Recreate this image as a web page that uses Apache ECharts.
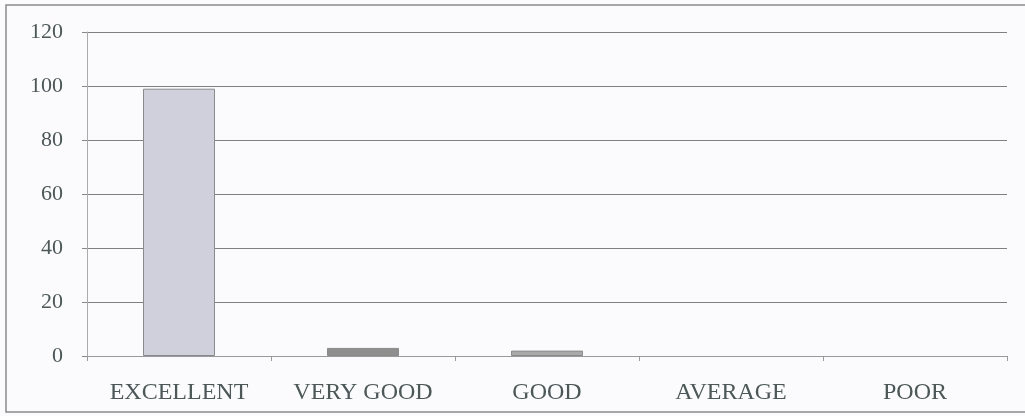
<!DOCTYPE html>
<html>
<head>
<meta charset="utf-8">
<script src="https://cdn.jsdelivr.net/npm/echarts@6/dist/echarts.min.js"></script>
<style>
html,body{margin:0;padding:0;background:#fbfbfd;}
#chart{width:1025px;height:416px;}
</style>
</head>
<body>
<div id="chart"></div>
<script>
var categories = ['EXCELLENT', 'VERY GOOD', 'GOOD', 'AVERAGE', 'POOR'];
var values = [99, 3, 2, 0, 0];
var barColors = ['#d0d0dc', '#8e8e8e', '#a9a9a9', '#a9a9a9', '#a9a9a9'];
var yTicks = { min: 0, max: 120, interval: 20 };

var chart = echarts.init(document.getElementById('chart'));
var textColor = '#4b5858';
chart.setOption({
  backgroundColor: '#fbfbfd',
  animation: false,
  graphic: [{
    type: 'rect',
    shape: { x: 6, y: 5, width: 1030, height: 407 },
    style: { fill: 'none', stroke: '#8a8a8a', lineWidth: 1.5 },
    silent: true, z: -1
  }],
  grid: { left: 87, right: 18, top: 32, bottom: 60 },
  xAxis: {
    type: 'category',
    data: categories,
    axisLine: { show: true, lineStyle: { color: '#999', width: 1 } },
    axisTick: { show: true, length: 5, lineStyle: { color: '#999' } },
    axisLabel: { color: textColor, fontFamily: 'Liberation Serif', fontSize: 24, margin: 25 }
  },
  yAxis: {
    type: 'value',
    min: yTicks.min, max: yTicks.max, interval: yTicks.interval,
    axisLine: { show: true, lineStyle: { color: '#aaa', width: 1 } },
    axisTick: { show: true, length: 5, lineStyle: { color: '#888' } },
    splitLine: { show: true, lineStyle: { color: '#808080', width: 1.2 } },
    axisLabel: { color: textColor, fontFamily: 'Liberation Serif', fontSize: 22, margin: 24 }
  },
  series: [{
    type: 'bar',
    barWidth: 72,
    data: values.map(function (v, i) {
      return { value: v, itemStyle: { color: barColors[i], borderColor: '#8a8a8a', borderWidth: v > 0 ? 1 : 0 } };
    })
  }]
});
</script>
</body>
</html>
